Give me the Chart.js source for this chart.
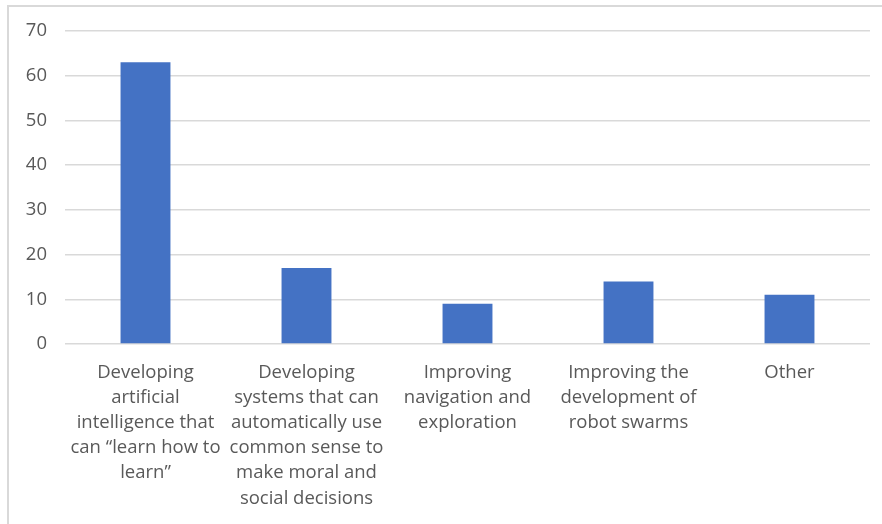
<!DOCTYPE html>
<html>
<head>
<meta charset="utf-8">
<script src="https://cdn.jsdelivr.net/npm/chart.js@4"></script>
<style>
  html, body { margin: 0; padding: 0; background: #fff; }
  #wrap {
    position: relative;
    width: 882px;
    height: 524px;
  }
  #frame {
    position: absolute;
    left: 7px;
    top: 5px;
    right: 0;
    bottom: 0;
    border-left: 2px solid #d9d9d9;
    border-top: 2px solid #d9d9d9;
    pointer-events: none;
  }
</style>
</head>
<body>
<div id="wrap">
  <canvas id="myChart" width="882" height="524"></canvas>
  <div id="frame"></div>
</div>
<script>
// answer categories, already split into the lines they are shown on
let categories = [
  ['Developing', 'artificial', 'intelligence that', 'can \u201clearn how to', 'learn\u201d'],
  ['Developing', 'systems that can', 'automatically use', 'common sense to', 'make moral and', 'social decisions'],
  ['Improving', 'navigation and', 'exploration'],
  ['Improving the', 'development of', 'robot swarms'],
  ['Other'],
];

let responses = [63, 17, 9, 14, 11];

let yTicks = [0, 10, 20, 30, 40, 50, 60, 70];

let textColor = '#595959';
let gridColor = '#d9d9d9';

var chart = document.getElementById('myChart').getContext('2d');
var myChart = new Chart(chart, {
  type: 'bar',
  data: {
    labels: categories,
    datasets: [
      {
        label: '',
        data: responses,
        backgroundColor: '#4472c4',
        borderWidth: 0,
        categoryPercentage: 1,
        barPercentage: 0.31,
      },
    ],
  },
  options: {
    responsive: false,
    animation: false,
    layout: {
      padding: { top: 31, right: 12, bottom: 0, left: 0 },
    },
    plugins: {
      legend: { display: false },
      tooltip: { enabled: false },
    },
    scales: {
      x: {
        grid: { display: false, drawTicks: false },
        border: { display: false },
        ticks: {
          color: textColor,
          font: { family: 'Open Sans', size: 18.5, lineHeight: 1.36 },
          padding: 16,
          maxRotation: 0,
          autoSkip: false,
        },
        afterFit: (scale) => { scale.height = 180; },
      },
      y: {
        min: 0,
        max: 70,
        afterBuildTicks: (scale) => {
          scale.ticks = yTicks.map((v) => ({ value: v }));
        },
        grid: { color: gridColor, lineWidth: 1.5, drawTicks: false },
        border: { display: false },
        ticks: {
          color: textColor,
          font: { family: 'Open Sans', size: 18.5 },
          padding: 18,
        },
        afterFit: (scale) => { scale.width = 65; },
      },
    },
  },
});
</script>
</body>
</html>
